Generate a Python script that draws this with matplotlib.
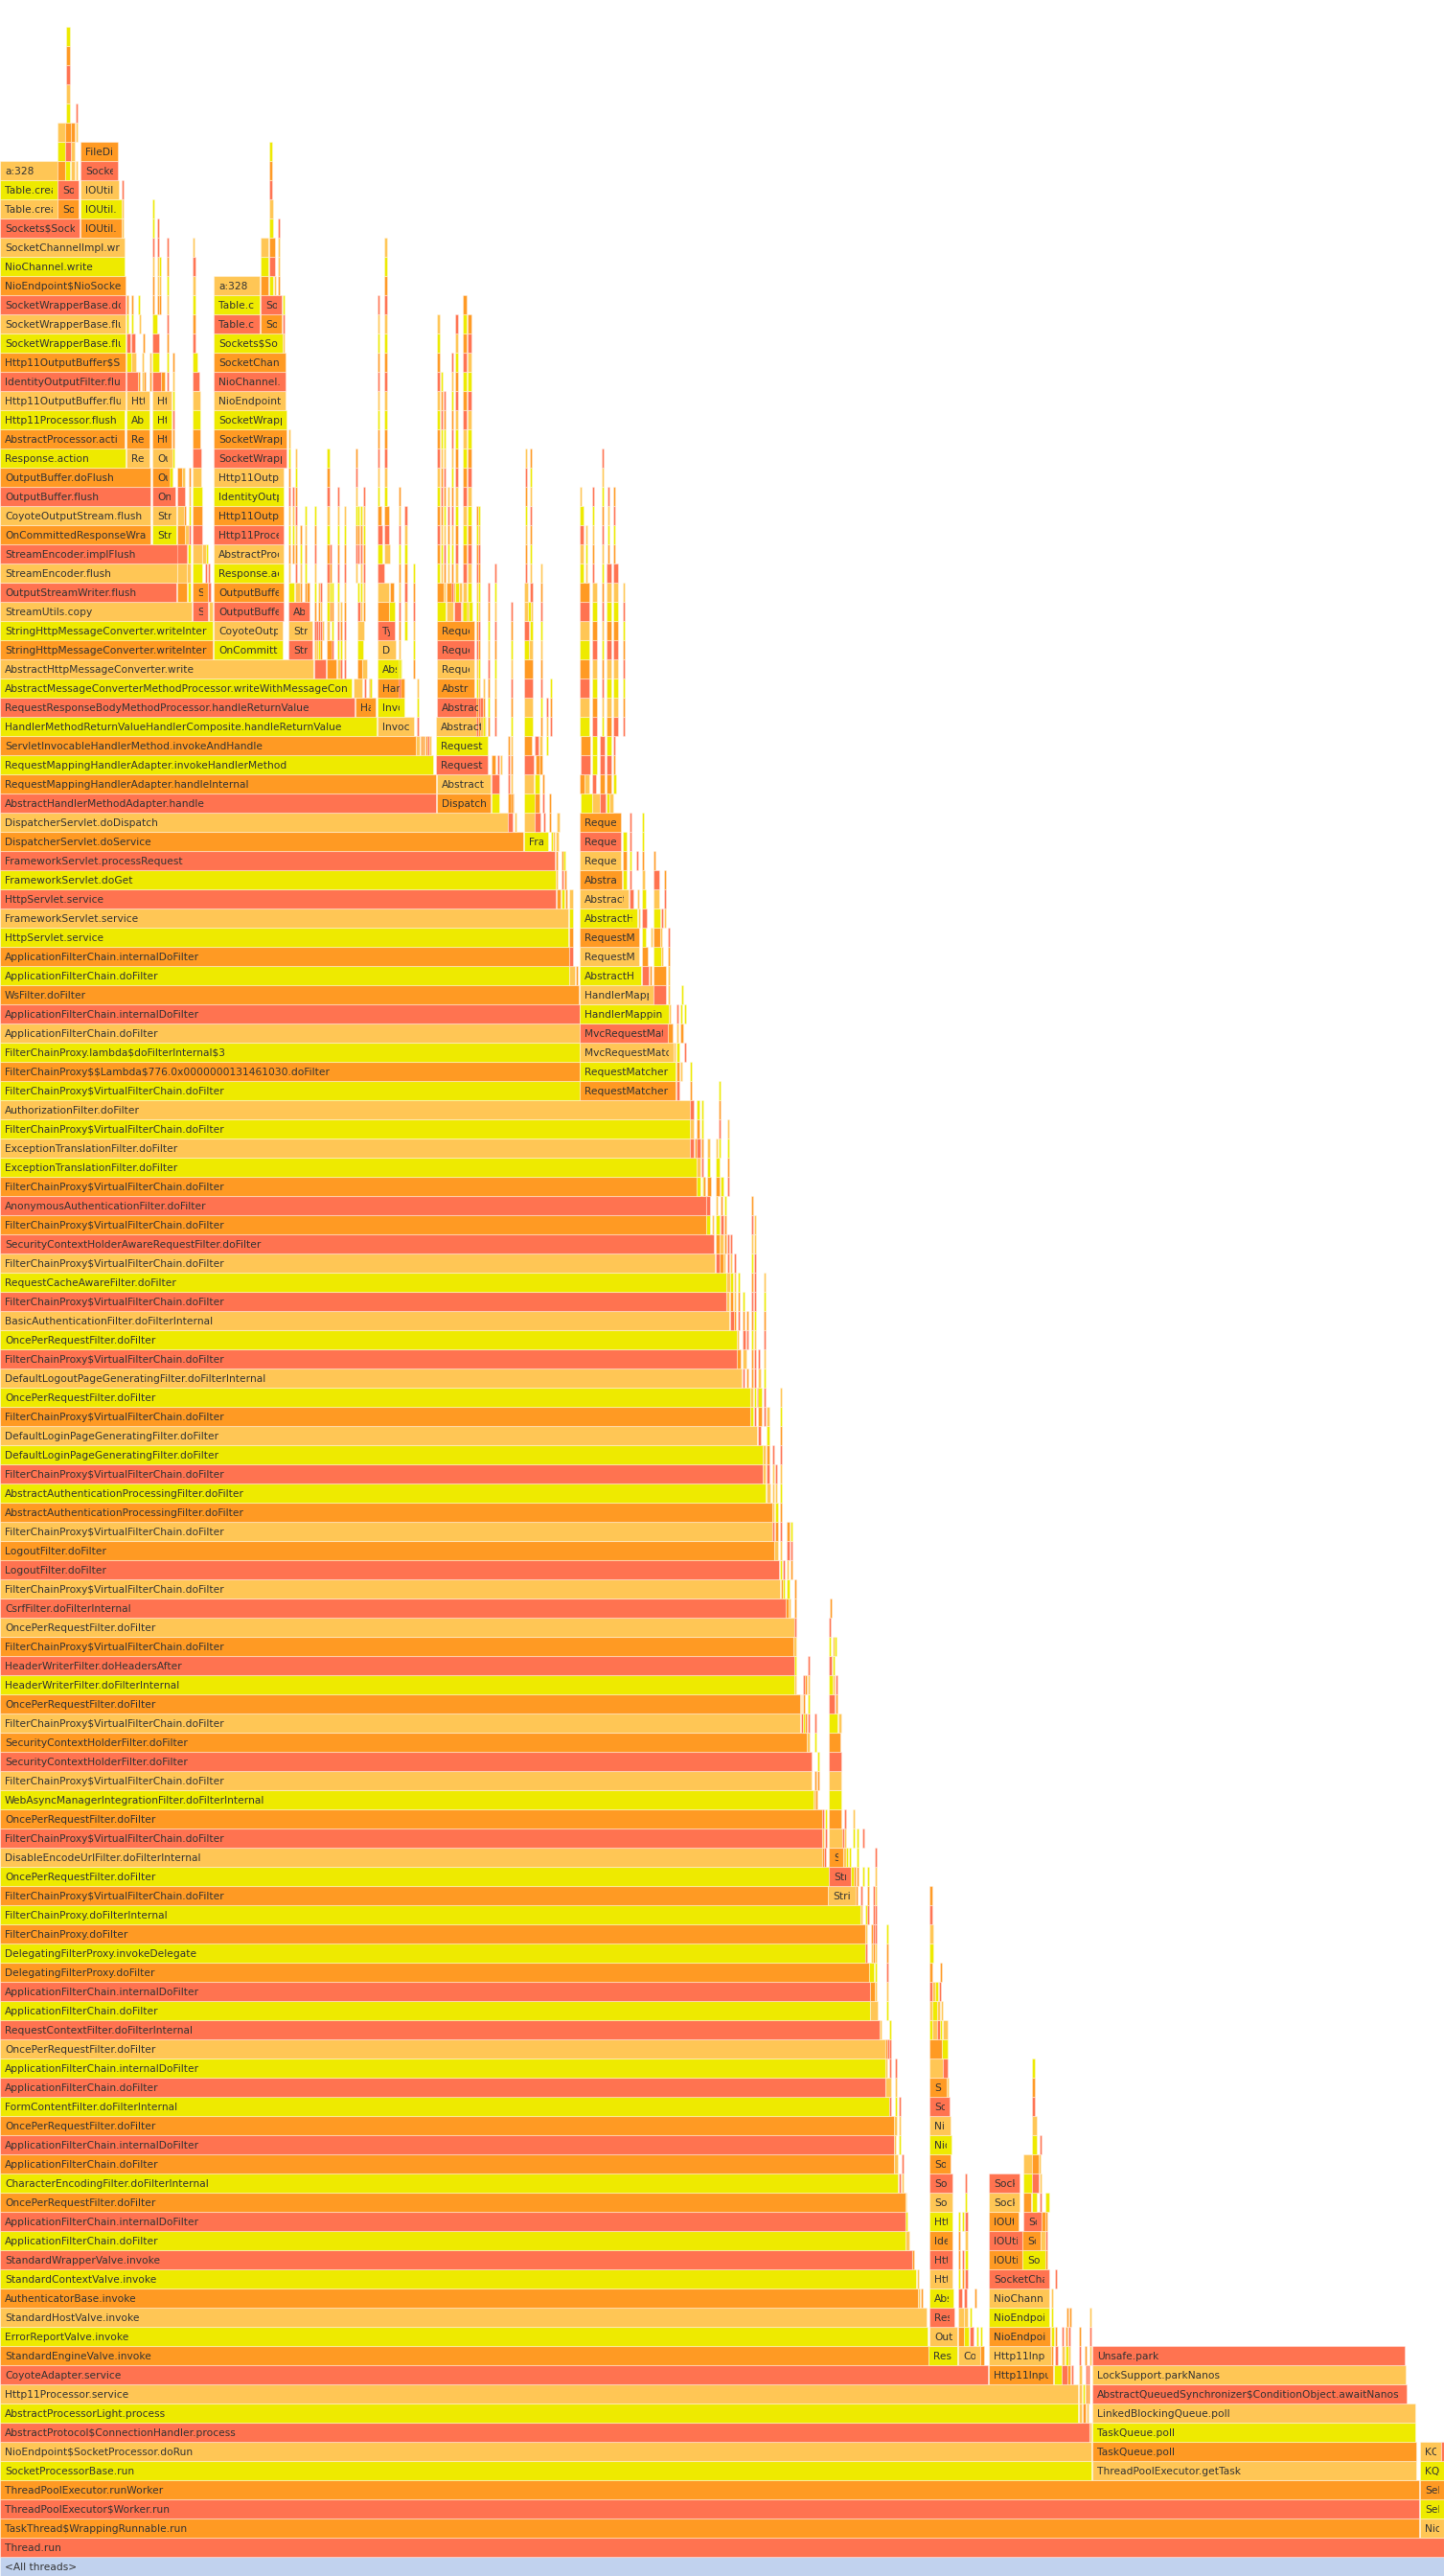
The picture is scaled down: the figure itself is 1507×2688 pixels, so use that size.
import matplotlib
matplotlib.use('Agg')
import matplotlib.pyplot as plt
from matplotlib.patches import Rectangle

######Frame data: depth 0 is the root, x is in samples######

palette = {'r': '#FF7350', 'o': '#FF9A23', 'l': '#FFC655', 'y': '#EEEA00', 'b': '#C1D2EE'}

FCPV = 'FilterChainProxy$VirtualFilterChain.doFilter'
OPRF = 'OncePerRequestFilter.doFilter'
AFCD = 'ApplicationFilterChain.doFilter'
AFCI = 'ApplicationFilterChain.internalDoFilter'

# left hand stack, from depth 1 upwards
main_names = [
    'Thread.run', 'TaskThread$WrappingRunnable.run', 'ThreadPoolExecutor$Worker.run',
    'ThreadPoolExecutor.runWorker', 'SocketProcessorBase.run', 'NioEndpoint$SocketProcessor.doRun',
    'AbstractProtocol$ConnectionHandler.process', 'AbstractProcessorLight.process',
    'Http11Processor.service', 'CoyoteAdapter.service', 'StandardEngineValve.invoke',
    'ErrorReportValve.invoke', 'StandardHostValve.invoke', 'AuthenticatorBase.invoke',
    'StandardContextValve.invoke', 'StandardWrapperValve.invoke', AFCD, AFCI, OPRF,
    'CharacterEncodingFilter.doFilterInternal', AFCD, AFCI, OPRF,
    'FormContentFilter.doFilterInternal', AFCD, AFCI, OPRF,
    'RequestContextFilter.doFilterInternal', AFCD, AFCI, 'DelegatingFilterProxy.doFilter',
    'DelegatingFilterProxy.invokeDelegate', 'FilterChainProxy.doFilter',
    'FilterChainProxy.doFilterInternal', FCPV, OPRF, 'DisableEncodeUrlFilter.doFilterInternal',
    FCPV, OPRF, 'WebAsyncManagerIntegrationFilter.doFilterInternal', FCPV,
    'SecurityContextHolderFilter.doFilter', 'SecurityContextHolderFilter.doFilter', FCPV, OPRF,
    'HeaderWriterFilter.doFilterInternal', 'HeaderWriterFilter.doHeadersAfter', FCPV, OPRF,
    'CsrfFilter.doFilterInternal', FCPV, 'LogoutFilter.doFilter', 'LogoutFilter.doFilter', FCPV,
    'AbstractAuthenticationProcessingFilter.doFilter',
    'AbstractAuthenticationProcessingFilter.doFilter', FCPV,
    'DefaultLoginPageGeneratingFilter.doFilter', 'DefaultLoginPageGeneratingFilter.doFilter', FCPV,
    OPRF, 'DefaultLogoutPageGeneratingFilter.doFilterInternal', FCPV, OPRF,
    'BasicAuthenticationFilter.doFilterInternal', FCPV, 'RequestCacheAwareFilter.doFilter', FCPV,
    'SecurityContextHolderAwareRequestFilter.doFilter', FCPV,
    'AnonymousAuthenticationFilter.doFilter', FCPV, 'ExceptionTranslationFilter.doFilter',
    'ExceptionTranslationFilter.doFilter', FCPV, 'AuthorizationFilter.doFilter', FCPV,
    'FilterChainProxy$$Lambda$776.0x0000000131461030.doFilter',
    'FilterChainProxy.lambda$doFilterInternal$3', AFCD, AFCI, 'WsFilter.doFilter', AFCD, AFCI,
    'HttpServlet.service', 'FrameworkServlet.service', 'HttpServlet.service',
    'FrameworkServlet.doGet', 'FrameworkServlet.processRequest', 'DispatcherServlet.doService',
    'DispatcherServlet.doDispatch', 'AbstractHandlerMethodAdapter.handle',
    'RequestMappingHandlerAdapter.handleInternal', 'RequestMappingHandlerAdapter.invokeHandlerMethod',
    'ServletInvocableHandlerMethod.invokeAndHandle',
    'HandlerMethodReturnValueHandlerComposite.handleReturnValue',
    'RequestResponseBodyMethodProcessor.handleReturnValue',
    'AbstractMessageConverterMethodProcessor.writeWithMessageConverters',
    'AbstractHttpMessageConverter.write', 'StringHttpMessageConverter.writeInternal',
    'StringHttpMessageConverter.writeInternal', 'StreamUtils.copy', 'OutputStreamWriter.flush',
    'StreamEncoder.flush', 'StreamEncoder.implFlush', 'OnCommittedResponseWrapper.flush',
    'CoyoteOutputStream.flush', 'OutputBuffer.flush', 'OutputBuffer.doFlush', 'Response.action',
    'AbstractProcessor.action', 'Http11Processor.flush', 'Http11OutputBuffer.flush',
    'IdentityOutputFilter.flush', 'Http11OutputBuffer$SocketOutputBuffer.flush',
    'SocketWrapperBase.flush', 'SocketWrapperBase.flush', 'SocketWrapperBase.doWrite',
    'NioEndpoint$NioSocketWrapper.doWrite', 'NioChannel.write', 'SocketChannelImpl.write',
    'Sockets$SocketOption', 'Table.createEntry', 'Table.createEntry', 'a:328',
]
main_samples = [
    1507, 1481, 1481, 1481, 1139, 1139, 1137, 1125, 1125, 1031,
    969, 968, 967, 958, 956, 952, 945, 945, 945, 937,
    933, 933, 933, 928, 924, 924, 924, 918, 908, 908,
    907, 903, 903, 898, 864, 865, 858, 858, 858, 849,
    847, 847, 842, 835, 835, 829, 829, 828, 829, 820,
    814, 813, 808, 806, 806, 799, 796, 796, 790, 783,
    783, 774, 769, 769, 761, 758, 758, 746, 745, 737,
    737, 727, 727, 720, 720, 720, 605, 605, 605, 605,
    605, 604, 594, 594, 593, 593, 580, 580, 579, 546,
    530, 455, 455, 452, 434, 393, 370, 367, 327, 222,
    222, 200, 184, 185, 195, 157, 157, 157, 157, 131,
    130, 130, 131, 131, 131, 131, 131, 131, 131, 130,
    130, 83, 60, 60, 60,
]
main_kinds = ('roroylrylr' 'oyloyryroy' 'oroyrylryr' 'oyoyoylroy' 'lroloyrolr'
              'lroloyrylo' 'ylrylrylro' 'roylylyoyl' 'royoylryro' 'lroyoyrylo'
              'ylrlrolroy' 'oylroylroy' 'lrlyl')

# labelled frames away from the left stack: depth, start, samples, kind, name
parked_frames = [
    (2, 1482, 25, 'l', 'NioEventLoop.run'), (3, 1482, 25, 'y', 'SelectorImpl.select'),
    (4, 1482, 25, 'o', 'SelectorImpl.lockAndDoSelect'), (5, 1482, 25, 'y', 'KQueueSelectorImpl.doSelect'),
    (6, 1482, 22, 'l', 'KQueue.poll'), (6, 1504, 3, 'r', ''),
    (5, 1140, 338, 'l', 'ThreadPoolExecutor.getTask'), (6, 1140, 338, 'o', 'TaskQueue.poll'),
    (7, 1140, 337, 'y', 'TaskQueue.poll'), (8, 1140, 337, 'l', 'LinkedBlockingQueue.poll'),
    (9, 1140, 328, 'r', 'AbstractQueuedSynchronizer$ConditionObject.awaitNanos'),
    (10, 1140, 327, 'l', 'LockSupport.parkNanos'), (11, 1140, 326, 'r', 'Unsafe.park'),
]
read_frames = [
    (10, 1032, 67, 'o', 'Http11InputBuffer.parseRequestLine'),
    (11, 1032, 65, 'l', 'Http11InputBuffer.fill'), (12, 1032, 64, 'o', 'NioEndpoint$NioSocketWrapper.read'),
    (13, 1032, 63, 'y', 'NioEndpoint$NioSocketWrapper.fill'), (14, 1032, 63, 'l', 'NioChannel.read'),
    (15, 1032, 63, 'r', 'SocketChannelImpl.read'), (16, 1032, 35, 'o', 'IOUtil.read'),
    (17, 1032, 35, 'r', 'IOUtil.read'), (18, 1032, 31, 'o', 'IOUtil.read'),
    (16, 1067, 24, 'y', 'Sockets$SocketOption'), (17, 1067, 19, 'o', 'Sockets$SocketOption'),
    (18, 1068, 19, 'r', 'Sockets$SocketOption'), (19, 1032, 32, 'l', 'SocketDispatcher.read'),
    (20, 1032, 32, 'r', 'SocketDispatcher.read0'),
    (11, 969, 30, 'y', 'Response.action'), (11, 1000, 23, 'l', 'CoyoteOutputStream.flush'),
    (12, 970, 29, 'l', 'OutputBuffer.flush'), (13, 970, 26, 'r', 'Response.action'),
    (14, 970, 25, 'y', 'AbstractProcessor.action'), (15, 970, 24, 'l', 'Http11Processor.flush'),
    (16, 970, 24, 'r', 'Http11OutputBuffer.flush'), (17, 970, 24, 'o', 'IdentityOutputFilter.flush'),
    (18, 970, 24, 'y', 'Http11OutputBuffer$Socket'), (19, 970, 24, 'l', 'SocketWrapperBase.flush'),
    (20, 970, 24, 'r', 'SocketWrapperBase.flush'), (21, 970, 22, 'o', 'SocketWrapperBase.doWrite'),
    (22, 970, 23, 'y', 'NioEndpoint.doWrite'), (23, 970, 22, 'l', 'NioChannel.write'),
    (24, 970, 21, 'r', 'SocketChannelImpl.write'), (25, 970, 18, 'o', 'Sockets$SocketOption'),
    (35, 864, 29, 'l', 'StrictHttpFirewall.getFirewalledRequest'),
    (36, 865, 23, 'r', 'StrictHttpFirewall.rejectedBlocklistedUrls'), (37, 865, 15, 'o', 'StrictHttpFirewall.contains'),
]
matcher_frames = [
    (77, 605, 100, 'o', 'RequestMatcherDelegatingAuthorizationManager.check'),
    (78, 605, 100, 'y', 'RequestMatcherDelegatingAuthorizationManager.check'),
    (79, 605, 98, 'l', 'MvcRequestMatcher.matcher'), (80, 605, 92, 'r', 'MvcRequestMatcher.getMapping'),
    (81, 605, 93, 'y', 'HandlerMappingIntrospector.getMatchableHandlerMapping'),
    (82, 605, 77, 'l', 'HandlerMappingIntrospector.doWithMatchingRequest'),
    (83, 605, 64, 'y', 'AbstractHandlerMapping.getHandler'), (84, 605, 62, 'l', 'RequestMappingInfoHandlerMapping.getHandlerInternal'),
    (85, 605, 62, 'o', 'RequestMappingHandlerMapping.getHandlerInternal'), (86, 605, 60, 'y', 'AbstractHandlerMethodMapping.getHandlerInternal'),
    (87, 605, 51, 'l', 'AbstractHandlerMethodMapping.lookupHandlerMethod'), (88, 605, 44, 'o', 'AbstractHandlerMethodMapping.addMatchingMappings'),
    (89, 605, 43, 'l', 'RequestMappingInfoHandlerMapping.getMatchingMapping'), (90, 605, 43, 'r', 'RequestMappingInfoHandlerMapping.getMatchingMapping'),
    (91, 605, 43, 'o', 'RequestMappingInfo.getMatchingCondition'),
    (90, 547, 25, 'y', 'FrameworkServlet.service'),
    (92, 456, 56, 'o', 'DispatcherServlet.getHandler'), (93, 456, 56, 'l', 'AbstractHandlerMapping.getHandler'),
    (94, 455, 54, 'r', 'RequestMappingHandlerAdapter.getDefaultModelAndView'),
    (95, 455, 54, 'y', 'RequestMappingHandlerAdapter.createInvocableHandlerMethod'),
    (96, 455, 52, 'l', 'AbstractHandlerMapping.getHandlerExecutionChain'), (97, 456, 48, 'r', 'AbstractHandlerMapping.getCorsConfiguration'),
    (98, 456, 39, 'o', 'AbstractMessageConverter.canWrite'), (99, 456, 39, 'l', 'RequestMappingInfo.compareTo'),
    (100, 456, 39, 'r', 'RequestMappingInfo.compareTo'), (101, 456, 39, 'o', 'RequestMappingInfo.compareTo'),
    (96, 394, 38, 'l', 'InvocableHandlerMethod.invokeForRequest'), (97, 394, 28, 'y', 'InvocableHandlerMethod.doInvoke'),
    (98, 394, 28, 'o', 'HandlerMethodArgumentResolverComposite.resolve'), (99, 394, 25, 'y', 'AbstractNamedValueMethodArgumentResolver'),
    (100, 394, 19, 'l', 'DataBinder.convertIfNecessary'), (101, 394, 18, 'r', 'TypeConverterDelegate.convert'),
    (97, 371, 21, 'o', 'HandlerMethodReturnValueHandler'),
]
write_frames = [
    (100, 223, 72, 'y', 'OnCommittedResponseWrapper.flush'), (101, 223, 72, 'l', 'CoyoteOutputStream.flush'),
    (102, 223, 73, 'r', 'OutputBuffer.flush'), (103, 223, 73, 'o', 'OutputBuffer.doFlush'),
    (104, 223, 73, 'y', 'Response.action'), (105, 223, 73, 'l', 'AbstractProcessor.action'),
    (106, 223, 73, 'r', 'Http11Processor.flush'), (107, 223, 73, 'o', 'Http11OutputBuffer.flush'),
    (108, 223, 73, 'y', 'IdentityOutputFilter.flush'), (109, 223, 73, 'l', 'Http11OutputBuffer$Socket'),
    (110, 223, 76, 'r', 'SocketWrapperBase.flush'), (111, 223, 76, 'o', 'SocketWrapperBase.flush'),
    (112, 223, 76, 'y', 'SocketWrapperBase.doWrite'), (113, 223, 75, 'l', 'NioEndpoint$NioSocket'),
    (114, 223, 75, 'r', 'NioChannel.write'), (115, 223, 75, 'o', 'SocketChannelImpl.write'),
    (116, 223, 72, 'y', 'Sockets$SocketOption'), (117, 223, 48, 'r', 'Table.createEntry'),
    (118, 223, 48, 'y', 'Table.createEntry'), (119, 223, 48, 'l', 'a:328'),
    (117, 272, 22, 'o', 'Sockets$Socket'), (118, 272, 22, 'r', 'Sockets$Socket'),
    (101, 301, 25, 'l', 'StreamUtils.copy'), (100, 301, 25, 'r', 'StreamUtils.copy'), (102, 301, 22, 'r', 'AbstractHttp'),
    (106, 159, 25, 'y', 'StreamEncoder.flush'), (107, 159, 25, 'l', 'StreamEncoder.implFlush'),
    (108, 159, 24, 'r', 'OnCommitted'), (109, 159, 21, 'o', 'OutputBuffer.doFlush'),
    (110, 159, 21, 'l', 'OutputBuffer.flush'), (111, 159, 20, 'o', 'Http11'),
    (112, 159, 20, 'y', 'Http11'), (113, 159, 20, 'l', 'Http11'),
    (110, 132, 24, 'l', 'Response.action'), (111, 132, 24, 'o', 'Response.action'),
    (112, 132, 24, 'y', 'AbstractProcessor'), (113, 132, 24, 'l', 'Http11Processor'),
    (103, 201, 16, 'o', 'StreamEncoder'), (102, 201, 16, 'r', 'StreamEncoder'),
    (122, 84, 43, 'o', 'IOUtil.write'), (123, 84, 43, 'y', 'IOUtil.write'), (124, 84, 40, 'l', 'IOUtil.write'),
    (125, 84, 39, 'r', 'SocketDispatcher.writev'), (126, 84, 39, 'o', 'FileDispatcher.writev0'),
    (124, 60, 22, 'r', 'Sockets$Socket'), (123, 60, 22, 'o', 'Sockets$Socket'),
]

# unlabelled frames on the staircase: depth, start, samples, kind
stair_low = [
    (7, 1137, 2, 'l'), (8, 1126, 3, 'l'), (8, 1130, 3, 'o'), (8, 1134, 2, 'l'), (9, 1126, 3, 'l'), (9, 1130, 2, 'y'), (9, 1133, 1.5, 'o'), (9, 1135, 1.5, 'o'),
    (10, 1100, 8, 'y'), (10, 1108, 6, 'r'), (10, 1114, 3, 'o'), (10, 1118, 1.5, 'r'), (10, 1126, 3, 'l'), (10, 1133, 1.5, 'r'), (10, 1135, 2, 'r'),
    (11, 1097, 1.5, 'o'), (11, 1101, 3, 'r'), (11, 1108, 3, 'l'), (11, 1112, 3, 'y'), (11, 1115, 2, 'l'), (11, 1126, 1.5, 'r'), (11, 1132, 1.5, 'o'), (11, 1137, 1.5, 'l'),
    (11, 1023, 4, 'o'), (12, 1000, 6, 'o'), (12, 1006, 5, 'y'), (12, 1012, 4, 'r'), (12, 1019, 1.5, 'y'), (12, 1023, 1.5, 'y'),
    (12, 1097, 3, 'y'), (12, 1101, 2, 'o'), (12, 1108, 2, 'r'), (12, 1112, 2, 'o'), (12, 1115, 2, 'r'), (12, 1126, 1.5, 'o'), (12, 1137, 1.5, 'r'),
    (13, 1000, 6, 'l'), (13, 1006, 4, 'l'), (13, 1012, 2, 'y'), (13, 1097, 1.5, 'y'), (13, 1113, 1.5, 'o'), (13, 1116, 1.5, 'o'), (13, 1137, 1.5, 'l'),
    (14, 1000, 4, 'r'), (14, 1006, 3, 'r'), (14, 1017, 1.5, 'o'), (14, 1097, 1.5, 'l'),
    (15, 1000, 2, 'y'), (15, 1004, 1.5, 'o'), (15, 1007, 3, 'r'), (15, 1101, 1.5, 'r'),
    (16, 1000, 1.5, 'o'), (16, 1004, 1.5, 'r'), (16, 1007, 3, 'y'), (16, 1091, 1.5, 'o'),
    (17, 1000, 1.5, 'o'), (17, 1007, 3, 'l'), (17, 1091, 1.5, 'r'),
    (18, 1000, 1.5, 'y'), (18, 1004, 1.5, 'y'), (18, 1007, 3, 'r'), (18, 1091, 1.5, 'o'),
    (19, 1007, 1.5, 'y'), (20, 1007, 1.5, 'r'), (19, 1091, 4, 'y'),
    (19, 1068, 8, 'o'), (19, 1077, 5, 'y'), (19, 1085, 1.5, 'r'), (20, 1068, 9, 'y'), (20, 1077, 7, 'r'), (20, 1085, 1.5, 'l'),
    (21, 1068, 9, 'l'), (21, 1077, 7, 'o'), (21, 1084, 1.5, 'l'), (22, 1077, 5, 'y'), (22, 1085, 1.5, 'r'),
    (23, 1077, 5, 'l'), (24, 1077, 3, 'r'), (25, 1077, 3, 'o'), (26, 1077, 3, 'y'),
    (17, 1086, 5, 'l'), (18, 1087, 4, 'o'),
    (25, 988, 2, 'l'), (26, 970, 14, 'l'), (26, 984, 5, 'r'), (27, 970, 13, 'o'), (27, 983, 6, 'y'),
    (28, 970, 3, 'y'), (28, 973, 5, 'l'), (28, 978, 3, 'r'), (28, 981, 2, 'y'), (28, 984, 5, 'l'),
    (29, 970, 3, 'l'), (29, 973, 5, 'y'), (29, 978, 3, 'l'), (29, 982, 1.5, 'l'),
    (30, 970, 3, 'r'), (30, 973, 3, 'l'), (30, 976, 3, 'y'), (30, 980, 1.5, 'r'), (31, 970, 3, 'o'), (31, 981, 1.5, 'o'),
    (32, 970, 4, 'y'), (33, 970, 4, 'l'), (34, 970, 3, 'r'), (35, 970, 3, 'o'),
    (20, 938, 2, 'r'), (21, 933, 4, 'l'), (22, 933, 2, 'l'), (23, 933, 3, 'l'), (19, 945, 1, 'l'),
    (18, 945, 2, 'y'), (17, 945, 4, 'l'), (16, 952, 2, 'o'), (15, 957, 1.5, 'l'), (14, 958, 2, 'l'), (14, 961, 2, 'o'),
    (20, 941, 1.5, 'l'), (21, 941, 1.5, 'r'), (22, 938, 2, 'y'), (23, 938, 1.5, 'l'),
    (24, 928, 2, 'r'), (24, 934, 1.5, 'y'), (24, 938, 1.5, 'r'), (25, 924, 6, 'l'), (25, 934, 1.5, 'l'),
    (26, 924, 2, 'l'), (26, 928, 1.5, 'r'), (26, 934, 1.5, 'r'), (27, 924, 2, 'o'), (27, 926, 1.5, 'r'), (27, 928, 1.5, 'r'),
    (28, 918, 2, 'l'), (28, 928, 1.5, 'y'), (29, 908, 8, 'l'), (29, 925, 1.5, 'y'),
    (30, 908, 5, 'o'), (30, 913, 1.5, 'l'), (30, 925, 1.5, 'l'), (31, 907, 5, 'y'), (31, 913, 2, 'y'), (31, 925, 1.5, 'r'),
    (32, 903, 1.5, 'r'), (32, 909, 1.5, 'l'), (32, 911, 1.5, 'o'), (32, 913, 2, 'l'), (32, 925, 1.5, 'o'),
    (33, 903, 1.5, 'l'), (33, 909, 1.5, 'o'), (33, 911, 1.5, 'r'), (33, 913, 1.5, 'r'), (33, 925, 1.5, 'y'),
    (34, 898, 1.5, 'l'), (34, 903, 1.5, 'y'), (34, 905, 1.5, 'r'), (34, 911, 1.5, 'r'), (34, 913, 1.5, 'r'),
    (35, 893, 1.5, 'o'), (35, 898, 1.5, 'r'), (35, 905, 1.5, 'o'), (35, 911, 1.5, 'r'), (35, 913, 1.5, 'l'),
    (36, 888, 3, 'y'), (36, 891, 1.5, 'o'), (36, 894, 1.5, 'o'), (36, 900, 1.5, 'y'), (36, 905, 1.5, 'y'), (36, 913, 1.5, 'l'),
    (37, 858, 1.5, 'o'), (37, 860, 1.5, 'r'), (37, 880, 3, 'l'), (37, 883, 1.5, 'y'), (37, 886, 1.5, 'y'), (37, 894, 1.5, 'y'), (37, 913, 1.5, 'r'),
    (38, 858, 2, 'l'), (38, 861, 1.5, 'r'), (38, 865, 14, 'l'), (38, 879, 1.5, 'r'), (38, 881, 1.5, 'l'), (38, 890, 1.5, 'y'), (38, 894, 1.5, 'y'), (38, 900, 1.5, 'r'),
    (39, 858, 1.5, 'r'), (39, 861, 1.5, 'y'), (39, 865, 13, 'o'), (39, 881, 2, 'r'), (39, 890, 1.5, 'l'),
    (40, 849, 1.5, 'l'), (40, 851, 2, 'o'), (40, 865, 13, 'y'), (41, 850, 1.5, 'o'), (41, 853, 1.5, 'o'), (41, 865, 13, 'l'),
    (42, 853, 1.5, 'y'), (42, 865, 13, 'r'), (43, 842, 3, 'l'), (43, 850, 1.5, 'y'), (43, 865, 12, 'o'),
    (44, 836, 1.5, 'r'), (44, 838, 1.5, 'y'), (44, 840, 1.5, 'o'), (44, 843, 1.5, 'r'), (44, 850, 1.5, 'r'), (44, 865, 9, 'y'), (44, 875, 3, 'l'),
    (45, 836, 1, 'l'), (45, 838, 2, 'o'), (45, 843, 1.5, 'y'), (45, 865, 6, 'r'), (45, 872, 1.5, 'o'),
    (46, 829, 2, 'l'), (46, 838, 1.5, 'r'), (46, 840, 1.5, 'o'), (46, 843, 1.5, 'l'), (46, 865, 4, 'y'), (46, 869, 2, 'l'), (46, 872, 1.5, 'r'),
    (47, 829, 2, 'y'), (47, 843, 2, 'r'), (47, 865, 3, 'r'), (47, 869, 2, 'y'),
    (48, 828, 3, 'l'), (48, 865, 2, 'y'), (48, 869, 1.5, 'l'), (48, 871, 1.5, 'y'),
    (49, 829, 2, 'r'), (49, 865, 2, 'r'), (50, 820, 3, 'o'), (50, 823, 2, 'l'), (50, 829, 2, 'o'), (50, 866, 1.5, 'o'),
    (51, 815, 1.5, 'o'), (51, 817, 1.5, 'y'), (51, 821, 3, 'y'), (51, 829, 1.5, 'o'),
    (52, 814, 1.5, 'y'), (52, 817, 1.5, 'r'), (52, 821, 2, 'l'), (52, 825, 1.5, 'o'),
]
stair_high = [
    (53, 808, 4, 'l'), (53, 814, 1.5, 'l'), (53, 821, 3, 'r'), (53, 825, 1.5, 'r'),
    (54, 806, 2, 'r'), (54, 809, 3, 'o'), (54, 814, 1.5, 'r'), (54, 821, 3, 'o'), (54, 825, 1.5, 'y'),
    (55, 806, 1.5, 'l'), (55, 809, 3, 'y'), (55, 814, 1.5, 'o'), (56, 800, 4, 'l'), (56, 806, 1.5, 'l'), (56, 809, 2, 'l'), (56, 814, 1.5, 'y'),
    (57, 796, 3, 'l'), (57, 800, 3, 'r'), (57, 806, 1.5, 'l'), (57, 809, 1.5, 'r'), (57, 814, 1.5, 'l'),
    (58, 796, 3, 'l'), (58, 800, 3, 'o'), (58, 806, 1.5, 'r'), (58, 814, 1.5, 'r'), (59, 791, 3, 'r'), (59, 800, 3, 'y'), (59, 814, 1.5, 'o'),
    (60, 783, 3, 'y'), (60, 787, 2, 'r'), (60, 791, 4, 'o'), (60, 797, 1.5, 'r'), (60, 800, 3, 'l'), (60, 814, 1.5, 'y'),
    (61, 783, 3, 'l'), (61, 787, 1.5, 'y'), (61, 790, 1.5, 'r'), (61, 791, 4, 'y'), (61, 797, 1.5, 'r'), (61, 814, 1.5, 'l'),
    (62, 775, 2, 'r'), (62, 779, 2, 'o'), (62, 784, 1.5, 'o'), (62, 787, 1.5, 'r'), (62, 791, 3, 'l'), (62, 797, 1.5, 'y'),
    (63, 769, 4, 'o'), (63, 775, 4, 'l'), (63, 784, 1.5, 'o'), (63, 787, 1.5, 'r'), (63, 791, 2, 'r'), (63, 797, 1.5, 'l'),
    (64, 769, 2, 'l'), (64, 775, 3, 'r'), (64, 779, 1.5, 'r'), (64, 784, 1.5, 'y'), (64, 787, 1.5, 'l'), (64, 797, 1.5, 'r'),
    (65, 762, 4, 'r'), (65, 766, 1.5, 'o'), (65, 770, 1.5, 'r'), (65, 775, 1.5, 'o'), (65, 779, 1.5, 'o'), (65, 784, 1.5, 'o'), (65, 787, 1.5, 'y'), (65, 797, 1.5, 'o'),
    (66, 758, 3, 'l'), (66, 762, 3, 'o'), (66, 766, 1.5, 'l'), (66, 770, 1.5, 'o'), (66, 775, 1.5, 'y'), (66, 784, 1.5, 'r'), (66, 787, 1.5, 'r'), (66, 797, 1.5, 'y'),
    (67, 758, 4, 'l'), (67, 762, 3, 'y'), (67, 766, 1.5, 'l'), (67, 770, 1.5, 'y'), (67, 784, 1.5, 'o'), (67, 787, 1.5, 'r'), (67, 797, 1.5, 'l'),
    (68, 747, 4, 'r'), (68, 751, 4, 'o'), (68, 755, 1.5, 'l'), (68, 759, 1.5, 'r'), (68, 762, 2, 'l'), (68, 766, 1.5, 'r'), (68, 784, 1.5, 'y'), (68, 787, 1.5, 'r'),
    (69, 747, 4, 'o'), (69, 751, 4, 'l'), (69, 756, 1.5, 'o'), (69, 759, 1.5, 'r'), (69, 762, 2, 'r'), (69, 784, 2, 'l'), (69, 787, 1.5, 'l'),
    (70, 737, 4, 'y'), (70, 743, 1.5, 'l'), (70, 747, 4, 'y'), (70, 752, 3, 'r'), (70, 756, 1.5, 'o'), (70, 784, 1.5, 'r'), (70, 787, 1.5, 'l'),
    (71, 737, 4, 'r'), (71, 747, 2, 'l'), (71, 752, 2, 'o'), (71, 756, 1.5, 'y'), (71, 784, 1.5, 'o'),
    (72, 727, 4, 'y'), (72, 733, 1.5, 'y'), (72, 734, 1.5, 'o'), (72, 738, 4, 'o'), (72, 747, 4, 'o'), (72, 752, 3, 'y'), (72, 759, 1.5, 'r'),
    (73, 727, 4, 'l'), (73, 732, 1.5, 'r'), (73, 738, 3, 'y'), (73, 747, 4, 'y'), (73, 759, 1.5, 'o'),
    (74, 720, 4, 'r'), (74, 725, 1.5, 'o'), (74, 727, 4, 'r'), (74, 732, 1.5, 'o'), (74, 738, 3, 'l'), (74, 747, 2, 'l'), (74, 750, 1.5, 'y'), (74, 759, 1.5, 'y'),
    (75, 720, 4, 'l'), (75, 727, 3, 'o'), (75, 732, 1.5, 'y'), (75, 750, 1.5, 'r'), (75, 759, 1.5, 'l'),
    (76, 720, 4, 'r'), (76, 727, 3, 'y'), (76, 732, 1.5, 'y'), (76, 750, 1.5, 'o'),
    (77, 706, 3, 'r'), (77, 720, 2, 'o'), (77, 750, 1.5, 'y'), (78, 706, 3, 'o'), (78, 710, 1.5, 'l'), (78, 720, 2, 'y'),
    (79, 703, 1.5, 'l'), (79, 706, 3, 'y'), (79, 714, 1.5, 'r'), (80, 697, 5, 'o'), (80, 706, 2, 'l'), (80, 710, 3, 'o'),
    (81, 698, 1.5, 'l'), (81, 706, 2, 'r'), (81, 710, 1.5, 'y'), (81, 714, 1.5, 'y'),
    (82, 682, 13, 'r'), (82, 697, 1.5, 'l'), (82, 711, 1.5, 'y'), (83, 594, 6, 'l'), (83, 601, 1.5, 'o'), (83, 670, 7, 'r'), (83, 678, 1.5, 'o'), (83, 682, 13, 'o'), (83, 697, 1.5, 'l'),
    (84, 594, 4, 'r'), (84, 670, 6, 'o'), (84, 682, 8, 'y'), (84, 690, 2, 'l'), (84, 697, 1.5, 'o'),
    (85, 594, 4, 'o'), (85, 670, 4, 'y'), (85, 679, 1.5, 'l'), (85, 682, 7, 'o'), (85, 689, 2, 'l'), (85, 697, 1.5, 'r'),
    (86, 594, 4, 'y'), (86, 666, 1.5, 'l'), (86, 670, 5, 'r'), (86, 682, 7, 'y'), (86, 690, 1.5, 'r'), (86, 693, 1.5, 'l'),
    (87, 581, 4, 'o'), (87, 586, 3, 'y'), (87, 590, 1.5, 'o'), (87, 594, 4, 'l'), (87, 657, 4, 'r'), (87, 665, 1.5, 'l'), (87, 670, 4, 'y'), (87, 682, 6, 'l'), (87, 693, 1.5, 'r'),
    (88, 580, 2, 'l'), (88, 586, 1.5, 'r'), (88, 589, 1.5, 'o'), (88, 650, 4, 'y'), (88, 657, 2, 'r'), (88, 670, 3, 'l'), (88, 682, 6, 'r'), (88, 693, 1.5, 'o'),
    (89, 580, 2, 'o'), (89, 586, 1.5, 'o'), (89, 588, 1.5, 'y'), (89, 650, 4, 'o'), (89, 657, 1.5, 'y'), (89, 664, 1.5, 'r'), (89, 670, 1.5, 'o'), (89, 682, 2, 'o'),
    (90, 575, 1.5, 'y'), (90, 577, 1.5, 'l'), (90, 580, 3, 'l'), (90, 650, 4, 'y'), (90, 657, 1.5, 'r'), (90, 670, 1.5, 'y'),
    (91, 530, 5, 'r'), (91, 537, 2, 'l'), (91, 547, 11, 'l'), (91, 558, 6, 'r'), (91, 567, 1.5, 'r'), (91, 573, 1.5, 'o'), (91, 581, 3, 'l'), (91, 657, 1.5, 'r'), (91, 670, 1.5, 'y'),
    (92, 513, 8, 'y'), (92, 530, 6, 'o'), (92, 547, 11, 'y'), (92, 558, 5, 'o'), (92, 566, 1.5, 'r'), (92, 573, 1.5, 'o'), (92, 606, 12, 'y'), (92, 618, 8, 'l'), (92, 626, 6, 'r'), (92, 633, 3, 'y'), (92, 636, 4, 'l'),
    (93, 513, 8, 'r'), (93, 530, 2, 'r'), (93, 547, 10, 'l'), (93, 558, 5, 'y'), (93, 566, 1.5, 'o'), (93, 605, 5, 'o'), (93, 610, 5, 'l'), (93, 618, 4, 'r'), (93, 626, 5, 'o'), (93, 633, 5, 'o'), (93, 640, 3, 'y'),
    (94, 513, 4, 'o'), (94, 519, 2, 'r'), (94, 522, 1.5, 'l'), (94, 530, 2, 'r'), (94, 547, 10, 'r'), (94, 559, 4, 'o'), (94, 563, 3, 'o'), (94, 606, 10, 'r'), (94, 618, 5, 'y'), (94, 626, 5, 'r'), (94, 633, 5, 'r'), (94, 640, 2, 'o'),
    (95, 434, 4, 'l'), (95, 439, 1.5, 'o'), (95, 441, 1.5, 'o'), (95, 444, 1.5, 'o'), (95, 446, 1.5, 'r'), (95, 448, 1.5, 'l'), (95, 530, 2, 'o'), (95, 547, 8, 'o'), (95, 558, 4, 'r'), (95, 563, 3, 'l'), (95, 606, 10, 'o'), (95, 618, 5, 'y'), (95, 626, 5, 'r'), (95, 633, 5, 'y'), (95, 640, 2, 'r'),
    (96, 547, 9, 'y'), (97, 547, 9, 'l'), (98, 547, 9, 'r'), (99, 547, 9, 'o'), (100, 547, 5, 'y'), (100, 552, 4, 'l'), (101, 547, 5, 'r'), (101, 553, 3, 'y'), (102, 547, 4, 'l'), (102, 551, 3, 'y'), (102, 554, 2, 'l'), (103, 547, 4, 'l'), (103, 553, 3, 'r'),
    (98, 369, 9, 'l'), (98, 380, 1.5, 'r'), (98, 385, 1.5, 'o'), (98, 386, 2, 'y'), (99, 328, 12, 'r'), (99, 341, 10, 'o'), (99, 352, 4, 'l'), (99, 359, 2, 'r'), (99, 373, 5, 'o'), (99, 378, 5, 'l'),
    (100, 328, 4, 'l'), (100, 333, 2, 'y'), (100, 341, 6, 'o'), (100, 373, 6, 'y'), (101, 328, 4, 'r'), (101, 336, 2, 'l'), (101, 373, 7, 'l'), (102, 373, 3, 'r'), (103, 373, 2, 'y'), (105, 373, 2, 'r'), (106, 373, 2, 'o'), (107, 373, 2, 'y'),
    (102, 394, 12, 'o'), (102, 406, 6, 'y'), (103, 394, 12, 'l'), (103, 407, 4, 'o'), (104, 394, 7, 'r'), (105, 394, 5, 'y'), (106, 394, 5, 'r'), (107, 394, 4, 'o'), (107, 401, 5, 'o'), (106, 401, 5, 'r'), (105, 401, 6, 'l'),
    (102, 456, 9, 'y'), (102, 466, 7, 'l'), (102, 474, 7, 'r'), (102, 482, 7, 'l'), (102, 489, 4, 'y'), (103, 456, 7, 'o'), (103, 463, 2, 'l'), (103, 466, 7, 'o'), (103, 473, 2, 'l'), (103, 475, 4, 'y'), (103, 479, 3, 'l'),
]
left_frames = [
    (125, 60, 8, 'o'), (125, 68, 5, 'y'), (125, 74, 4, 'l'), (125, 79, 2, 'l'), (126, 60, 8, 'y'), (126, 68, 6, 'r'), (126, 74, 4, 'l'),
    (127, 60, 8, 'l'), (127, 68, 6, 'o'), (127, 74, 4, 'o'), (127, 79, 2, 'l'), (128, 79, 2, 'r'), (124, 127, 2, 'r'), (123, 127, 2, 'l'), (122, 127, 2, 'l'),
    (118, 132, 1.5, 'o'), (118, 137, 1.5, 'o'), (118, 144, 1.5, 'y'), (117, 132, 2, 'y'), (117, 137, 2, 'y'), (117, 145, 1.5, 'l'),
    (116, 132, 4, 'r'), (116, 137, 4, 'r'), (116, 149, 1.5, 'o'), (115, 132, 5, 'y'), (115, 137, 5, 'l'), (115, 148, 1.5, 'l'), (115, 156, 1.5, 'l'),
    (114, 132, 12, 'r'), (114, 144, 2, 'o'), (114, 148, 1.5, 'l'), (114, 150, 1.5, 'o'), (114, 156, 1.5, 'o'), (112, 180, 1.5, 'r'), (111, 180, 1.5, 'o'), (110, 180, 2, 'y'),
    (109, 177, 3, 'y'), (109, 185, 5, 'o'), (109, 190, 3, 'l'), (108, 185, 8, 'r'), (107, 185, 7, 'l'), (107, 192, 2, 'o'), (106, 185, 8, 'o'), (106, 193, 4, 'l'),
    (105, 185, 10, 'r'), (105, 196, 3, 'y'), (105, 201, 10, 'l'), (105, 211, 4, 'l'), (104, 185, 10, 'l'), (104, 195, 4, 'l'), (104, 201, 10, 'y'), (104, 214, 1.5, 'r'), (104, 217, 1.5, 'r'),
    (103, 185, 10, 'o'), (103, 196, 3, 'y'), (103, 217, 3, 'r'), (102, 218, 4, 'l'),
    (114, 159, 9, 'r'), (114, 168, 4, 'o'), (115, 159, 7, 'y'), (116, 159, 7, 'r'), (117, 159, 5, 'y'),
    (114, 201, 7, 'r'), (113, 201, 8, 'l'), (112, 201, 8, 'y'), (111, 201, 8, 'o'), (110, 201, 9, 'r'), (109, 201, 9, 'l'), (108, 201, 10, 'y'), (107, 201, 10, 'o'), (106, 201, 10, 'r'),
    (115, 201, 5, 'y'), (116, 201, 3, 'r'), (117, 201, 3, 'o'), (118, 201, 3, 'y'), (119, 201, 3, 'l'), (120, 201, 3, 'r'), (121, 201, 1.5, 'l'),
    (116, 295, 2, 'l'), (117, 295, 1.5, 'r'), (118, 295, 1.5, 'y'), (119, 272, 8, 'o'), (119, 281, 4, 'y'), (119, 286, 2, 'l'), (119, 290, 2, 'o'),
    (120, 272, 8, 'y'), (120, 281, 6, 'r'), (120, 290, 2, 'l'), (121, 272, 8, 'l'), (121, 281, 6, 'o'), (121, 290, 2, 'l'), (122, 281, 4, 'y'), (122, 290, 2, 'r'),
    (123, 281, 4, 'l'), (124, 281, 3, 'r'), (125, 281, 3, 'o'), (126, 281, 3, 'y'),
    (103, 301, 6, 'y'), (103, 308, 5, 'l'), (103, 313, 2, 'o'), (103, 320, 3, 'o'),
]
# columns of one narrow frame per depth: start, samples, first depth, kinds going up
spike_columns = [
    (69, 4, 128, 'ylroy'),
    (301, 1.5, 104, 'loylroyl'), (305, 1.5, 105, 'oylr'), (308, 2, 104, 'rolroyl'), (313, 1.5, 104, 'lyo'), (318, 1.5, 103, 'oyoly'),
    (328, 1.5, 100, 'lroylroy'), (332, 1.5, 100, 'yrol'), (334, 1.5, 100, 'orlr'), (341, 2.5, 101, 'lylroylroy'), (344, 1.5, 102, 'oyor'), (346, 1.5, 100, 'ryoy'),
    (352, 1.5, 100, 'yrlyroylr'), (355, 2, 99, 'ryol'), (359, 2, 100, 'lrolroyl'), (371, 2, 104, 'lroylro'),
    (376, 1.5, 102, 'lylroy'), (379, 2, 102, 'olroylr'),
    (394, 2, 108, 'ylroylroylr'), (401, 3, 108, 'ylroylroylroyl'), (416, 1.5, 98, 'rylorloyrlo'), (422, 3, 101, 'ylroylr'), (431, 1.5, 99, 'oylroy'), (435, 1.5, 96, 'ryl'),
    (456, 3, 104, 'yoroylroylroyl'), (460, 2, 104, 'lylorolyroy'), (463, 1.5, 104, 'orlyorlyor'), (467, 1.5, 104, 'lyorl'),
    (471, 1.5, 103, 'roylroylroylr'), (475, 3, 104, 'lroylroylroylr'), (483, 3.5, 102, 'ylroylroylroyroyo'), (488, 3.5, 103, 'ylroylroylrylro'),
    (497, 1.5, 96, 'roylroylroyo'), (499, 1.5, 96, 'orlyorlyorly'), (504, 1.5, 96, 'yol'), (509, 1.5, 96, 'oyorlyor'), (516, 1.5, 96, 'rolyorlyr'),
    (533, 1.5, 92, 'ololyorlyor'), (548, 1.5, 104, 'rolyorl'), (553, 1.5, 104, 'lyorlyo'), (564, 1.5, 96, 'oyrolyrol'), (570, 2, 95, 'ylr'), (574, 1.5, 96, 'roy'),
    (605, 10, 96, 'ylroylro'), (605, 4, 104, 'ylry'), (605, 1.5, 108, 'l'), (611, 1.5, 104, 'lyl'), (618, 5, 96, 'roylroyl'), (618, 1.5, 104, 'rolyr'),
    (628, 1.5, 96, 'ylroylroylroylr'), (633, 5, 96, 'olylroylr'), (634, 2, 105, 'oylr'), (640, 4.5, 96, 'rlylroylr'), (640, 1.5, 105, 'oyro'), (650, 1.5, 96, 'royroyrl'),
    (159, 2, 118, 'oolryy'), (164, 1.5, 118, 'ollrr'), (166, 1.5, 118, 'oly'), (174, 1.5, 114, 'ryorlyor'), (180, 1.5, 113, 'ylo'), (197, 1.5, 106, 'rylo'), (215, 1.5, 105, 'y'),
]

######Draw the frames######

fig = plt.figure(figsize=(15.07, 26.88), dpi=100)
ax = fig.add_axes([0, 0, 1, 1])
ax.set_xlim(0, 1507)
ax.set_ylim(0, 134.4)
ax.axis('off')
edge = (1, 1, 1, 0.35)
renderer = fig.canvas.get_renderer()


def draw_frame(depth, start, samples, kind, name=''):
    ax.barh(depth, samples, left=start, height=1, align='edge',
            color=palette[kind], edgecolor=edge, linewidth=0.8)
    if name and samples > 11:
        txt = ax.text(start + 5, depth + 0.47, name, va='center', ha='left', parse_math=False,
                      fontsize=7.7, color='#333333', family='DejaVu Sans')
        # drop letters that cannot fit, the last one is cut by the clip
        shown = name
        while len(shown) > 1 and txt.get_window_extent(renderer).width > samples - 10 + 5:
            shown = shown[:-1]
            txt.set_text(shown)
        clip = Rectangle((start, depth), samples - 5, 1, transform=ax.transData)
        txt.set_clip_on(True)
        txt.set_clip_path(clip)


draw_frame(0, 0, 1507, 'b', '<All threads>')
for i in range(len(main_names)):
    draw_frame(i + 1, 0, main_samples[i], main_kinds[i], main_names[i])

for group in [parked_frames, read_frames, matcher_frames, write_frames]:
    for depth, start, samples, kind, name in group:
        draw_frame(depth, start, samples, kind, name)

for group in [stair_low, stair_high, left_frames]:
    for depth, start, samples, kind in group:
        draw_frame(depth, start, samples, kind)

for start, samples, depth, kinds in spike_columns:
    for k, kind in enumerate(kinds):
        draw_frame(depth + k, start, samples, kind)

fig.savefig('out.png', dpi=100, facecolor='white')
